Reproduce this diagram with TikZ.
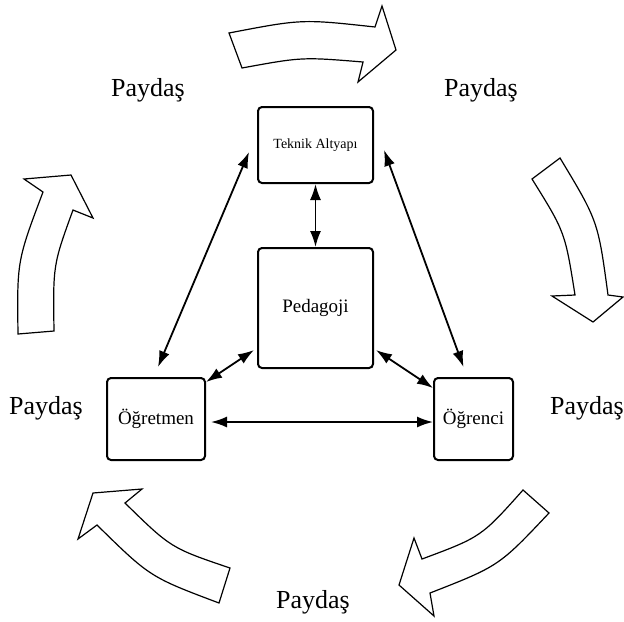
\documentclass[tikz,border=0pt]{standalone}
\usepackage{fontspec}
\setmainfont{Liberation Serif}
\usepackage{tikz}
\usetikzlibrary{arrows.meta, positioning}

\begin{document}
\begin{tikzpicture}[
                x=0.5pt, y=-0.5pt,
                box/.style={
                    rectangle,
                    draw=black,
                    fill=white,
                    rounded corners=2pt,
                    line width=1pt,
                    text centered,
                    inner sep=2pt,
                    font=\fontsize{9.5}{11}\selectfont,
                    align=center
                },
                paydas/.style={font=\fontsize{13}{16}\selectfont},
                link/.style={{Latex[length=8pt,width=5.5pt]}-{Latex[length=8pt,width=5.5pt]}, line width=0.9pt},
                flow/.style={draw=black, fill=white, line width=0.6pt, line join=miter}
            ]

            \useasboundingbox (0,0) rectangle (624,621);

            % Boxes
            \node (tek) [box, minimum width=57.5pt, minimum height=38pt,
            font=\fontsize{7}{8}\selectfont] at (315.5,145) {Teknik Altyapı};

            \node (ped) [box, minimum width=57.5pt, minimum height=60pt]
            at (315.5,308) {Pedagoji};

            \node (ogt) [box, minimum width=49pt, minimum height=41pt]
            at (156,419) {Öğretmen};

            \node (ogr) [box, minimum width=39.5pt, minimum height=41pt]
            at (473.5,419) {Öğrenci};

            % Stakeholders
            \node (paydas1) [paydas] at (148,90) {Paydaş};
            \node (paydas2) [paydas] at (481,90) {Paydaş};
            \node (paydas3) [paydas] at (587,408) {Paydaş};
            \node (paydas4) [paydas] at (313,602) {Paydaş};
            \node (paydas5) [paydas] at (46,408) {Paydaş};

            % Connectors
            \draw [link] (tek) -- (ped);
            \draw [link] ([xshift=-4pt,yshift=-3.5pt]tek.west) -- ([xshift=1pt,yshift=5pt]ogt.north);
            \draw [link] ([xshift=5pt,yshift=-2.5pt]tek.east) -- ([xshift=-5pt,yshift=5pt]ogr.north);
            \draw [link] ([xshift=-1.5pt,yshift=9.5pt]ped.south west) -- ([yshift=-2.5pt]ogt.north east);
            \draw [link] ([xshift=1pt,yshift=9.5pt]ped.south east) -- ([yshift=-5.5pt]ogr.north west);
            \draw [link, shorten <=2.5pt] ([yshift=-1.5pt]ogt.east) -- ([yshift=-1.5pt]ogr.west);

            % Cycle arrows
            \draw [flow] (229,33) .. controls (302,19) .. (375,27) -- (382,6) -- (396,50)
            -- (358,82) -- (363,62) .. controls (302,57) .. (242,68) -- cycle;
            \draw [flow] (560,158) .. controls (598,221) .. (608,295) -- (623,297) -- (593,322)
            -- (552,296) -- (575,295) .. controls (565,232) .. (532,179) -- cycle;
            \draw [flow] (523,490) .. controls (481,537) .. (422,559) -- (414,538) -- (399,585)
            -- (434,616) -- (430,593) .. controls (499,566) .. (549,513) -- cycle;
            \draw [flow] (230,568) .. controls (171,548) .. (125,503) -- (142,489) -- (93,493)
            -- (78,539) -- (97,525) .. controls (150,577) .. (219,603) -- cycle;
            \draw [flow] (18,334) .. controls (17,261) .. (43,192) -- (24,179) -- (71,175)
            -- (93,218) -- (73,210) .. controls (53,265) .. (54,331) -- cycle;

\end{tikzpicture}
\end{document}
